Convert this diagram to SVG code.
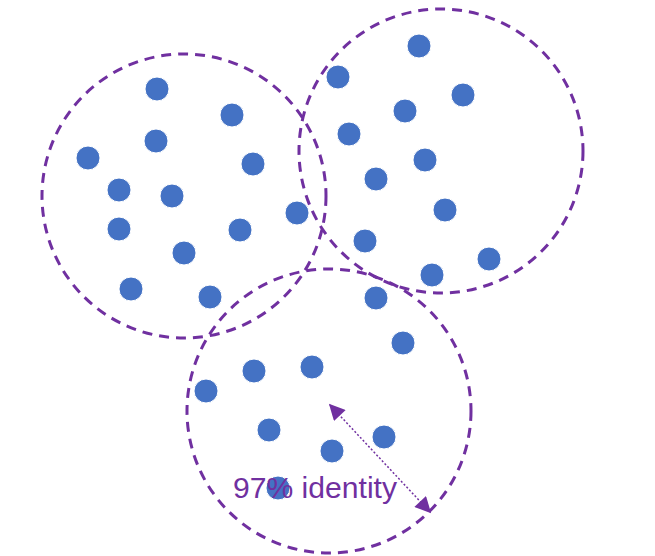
<svg xmlns="http://www.w3.org/2000/svg" width="655" height="556" viewBox="0 0 655 556">
<style>
.cl{fill:none;stroke:#7030A0;stroke-width:3;stroke-dasharray:10,7}
.d{fill:#4472C4;stroke:#fff;stroke-width:1}
.lbl{font-family:"Liberation Sans",Arial,sans-serif;font-size:29px;fill:#7030A0}
</style>
<defs>
<marker id="ah2" viewBox="0 0 10 10" refX="9" refY="5" markerWidth="18" markerHeight="16" markerUnits="userSpaceOnUse" orient="auto-start-reverse">
<path d="M0,0 L10,5 L0,10 z" fill="#7030A0"/>
</marker>
</defs>
<rect width="655" height="556" fill="#fff"/>
<g id="cluster1">
<circle class="cl" cx="184" cy="196" r="142"/>
<circle class="d" cx="157" cy="89" r="12"/><circle class="d" cx="232" cy="115" r="12"/><circle class="d" cx="88" cy="158" r="12"/><circle class="d" cx="156" cy="141" r="12"/><circle class="d" cx="253" cy="164" r="12"/><circle class="d" cx="119" cy="190" r="12"/><circle class="d" cx="172" cy="196" r="12"/><circle class="d" cx="119" cy="229" r="12"/><circle class="d" cx="240" cy="230" r="12"/><circle class="d" cx="297" cy="213" r="12"/><circle class="d" cx="184" cy="253" r="12"/><circle class="d" cx="131" cy="289" r="12"/><circle class="d" cx="210" cy="297" r="12"/>
</g>
<g id="cluster2">
<circle class="cl" cx="441" cy="151" r="142"/>
<circle class="d" cx="419" cy="46" r="12"/><circle class="d" cx="338" cy="77" r="12"/><circle class="d" cx="463" cy="95" r="12"/><circle class="d" cx="405" cy="111" r="12"/><circle class="d" cx="349" cy="134" r="12"/><circle class="d" cx="425" cy="160" r="12"/><circle class="d" cx="376" cy="179" r="12"/><circle class="d" cx="445" cy="210" r="12"/><circle class="d" cx="365" cy="241" r="12"/><circle class="d" cx="489" cy="259" r="12"/><circle class="d" cx="432" cy="275" r="12"/>
</g>
<g id="cluster3">
<circle class="cl" cx="329" cy="411" r="142"/>
<circle class="d" cx="376" cy="298" r="12"/><circle class="d" cx="403" cy="343" r="12"/><circle class="d" cx="254" cy="371" r="12"/><circle class="d" cx="312" cy="367" r="12"/><circle class="d" cx="206" cy="391" r="12"/><circle class="d" cx="269" cy="430" r="12"/><circle class="d" cx="332" cy="451" r="12"/><circle class="d" cx="384" cy="437" r="12"/><circle class="d" cx="278" cy="488" r="12"/>
</g>
<g id="connectors">
<line x1="330" y1="405" x2="430" y2="512" stroke="#7030A0" stroke-width="1.5" stroke-dasharray="2,2" marker-start="url(#ah2)" marker-end="url(#ah2)"/>
</g>
<g id="label">
<text class="lbl" x="233" y="498" textLength="164" lengthAdjust="spacingAndGlyphs">97% identity</text>
</g>
</svg>
